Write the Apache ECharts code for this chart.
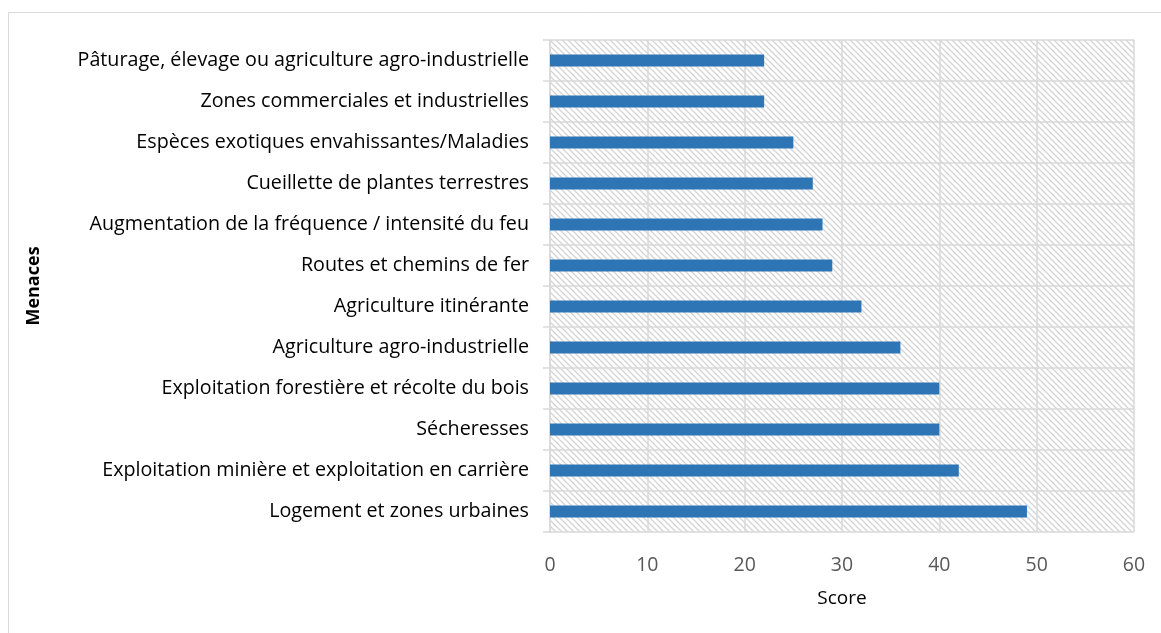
<!DOCTYPE html>
<html>
<head>
<meta charset="utf-8">
<script src="https://cdn.jsdelivr.net/npm/echarts@6/dist/echarts.min.js"></script>
<style>
  html, body { margin: 0; padding: 0; background: #ffffff; }
  #chart { width: 1161px; height: 633px; }
</style>
</head>
<body>
<div id="chart"></div>
<script>
// Threat names, listed top to bottom
const menaces = [
  "Pâturage, élevage ou agriculture agro-industrielle",
  "Zones commerciales et industrielles",
  "Espèces exotiques envahissantes/Maladies",
  "Cueillette de plantes terrestres",
  "Augmentation de la fréquence / intensité du feu",
  "Routes et chemins de fer",
  "Agriculture itinérante",
  "Agriculture agro-industrielle",
  "Exploitation forestière et récolte du bois",
  "Sécheresses",
  "Exploitation minière et exploitation en carrière",
  "Logement et zones urbaines"
];
// Score for each threat, same order
const scores = [22, 22, 25, 27, 28, 29, 32, 36, 40, 40, 42, 49];
// Score axis range
const scoreMin = 0;
const scoreMax = 60;
const scoreStep = 10;

// Light diagonal hatch used as the plot-area fill
function hatchPattern() {
  const c = document.createElement('canvas');
  const s = 6;
  c.width = s; c.height = s;
  const ctx = c.getContext('2d');
  ctx.fillStyle = '#ffffff';
  ctx.fillRect(0, 0, s, s);
  ctx.strokeStyle = '#d4d4d4';
  ctx.lineWidth = 1.3;
  ctx.beginPath();
  ctx.moveTo(0, 0); ctx.lineTo(s, s);
  ctx.moveTo(-s, 0); ctx.lineTo(s, 2 * s);
  ctx.moveTo(0, -s); ctx.lineTo(2 * s, s);
  ctx.stroke();
  return c;
}

const font = "'Open Sans', 'Noto Sans', sans-serif";
const chart = echarts.init(document.getElementById('chart'), null, { renderer: 'canvas' });

chart.setOption({
  animation: false,
  backgroundColor: '#ffffff',
  graphic: [{
    type: 'rect',
    left: 8, top: 12,
    shape: { width: 1300, height: 800 },
    style: { fill: 'transparent', stroke: '#d9d9d9', lineWidth: 1 },
    silent: true,
    z: -1
  }],
  grid: {
    left: 550, right: 27, top: 40, bottom: 101,
    show: true,
    borderWidth: 0,
    backgroundColor: { image: hatchPattern(), repeat: 'repeat' }
  },
  xAxis: {
    type: 'value',
    min: scoreMin, max: scoreMax, interval: scoreStep,
    name: 'Score',
    nameLocation: 'middle',
    nameGap: 57,
    nameTextStyle: { fontFamily: font, fontSize: 19, color: '#000000' },
    axisLine: { show: false },
    axisTick: { show: false },
    axisLabel: { fontFamily: font, fontSize: 19.5, color: '#595959', margin: 23 },
    splitLine: { show: true, lineStyle: { color: '#d9d9d9', width: 1.5 } }
  },
  yAxis: {
    type: 'category',
    data: menaces,
    inverse: true,
    name: 'Menaces',
    nameLocation: 'middle',
    nameGap: 507,
    nameRotate: 90,
    nameTextStyle: { fontFamily: font, fontSize: 18, fontWeight: 'bold', color: '#000000' },
    axisLine: { show: true, lineStyle: { color: '#d9d9d9', width: 1.5 } },
    axisTick: { show: true, length: 7, lineStyle: { color: '#d9d9d9', width: 1.5 } },
    axisLabel: { fontFamily: font, fontSize: 19.7, color: '#000000', margin: 21 },
    splitLine: { show: true, lineStyle: { color: '#d9d9d9', width: 1.5 } }
  },
  series: [{
    type: 'bar',
    data: scores,
    barWidth: 12,
    itemStyle: { color: '#2e75b6' }
  }]
});
</script>
</body>
</html>
